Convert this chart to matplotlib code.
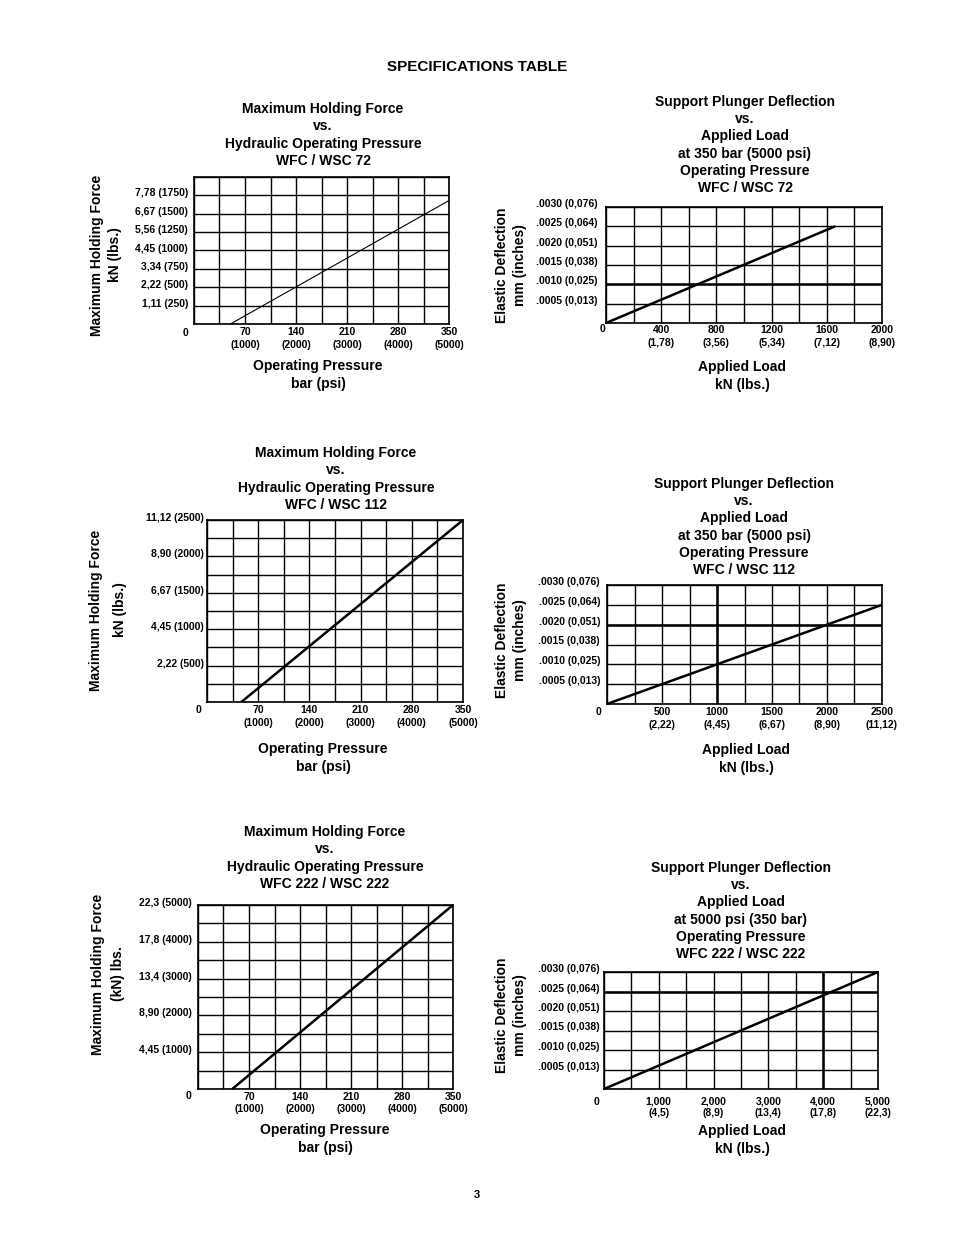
import matplotlib
matplotlib.use('Agg')
import matplotlib.pyplot as plt
import matplotlib.transforms as mtransforms

plt.rcParams['font.family'] = ['Liberation Sans', 'DejaVu Sans']
plt.rcParams['font.weight'] = 'bold'

W, H = 954, 1235

# ---- data ----
# holding force lines (bar -> lbs)
wfc72_pressure = [50, 350]
wfc72_force = [0, 1680]
wfc112_pressure = [47, 350]
wfc112_force = [0, 2500]
wfc222_pressure = [47, 350]
wfc222_force = [0, 5000]

# plunger deflection lines (lbs -> inches)
wfc72_load = [0, 1660]
wfc72_defl = [0, 0.0025]
wfc112_load = [0, 2500]
wfc112_defl = [0, 0.0025]
wfc222_load = [0, 5000]
wfc222_defl = [0, 0.0030]

# ---- ticks / labels ----
press_ticks = [0, 35, 70, 105, 140, 175, 210, 245, 280, 315, 350]
press_labels = ['', '', '70\n(1000)', '', '140\n(2000)', '', '210\n(3000)', '',
                '280\n(4000)', '', '350\n(5000)']

force72_ticks = [0, 250, 500, 750, 1000, 1250, 1500, 1750, 2000]
force72_labels = ['', '1,11 (250)', '2,22 (500)', '3,34 (750)', '4,45 (1000)',
                  '5,56 (1250)', '6,67 (1500)', '7,78 (1750)', '']
force112_ticks = [0, 250, 500, 750, 1000, 1250, 1500, 1750, 2000, 2250, 2500]
force112_labels = ['', '', '2,22 (500)', '', '4,45 (1000)', '', '6,67 (1500)', '',
                   '8,90 (2000)', '', '11,12 (2500)']
force222_ticks = [0, 500, 1000, 1500, 2000, 2500, 3000, 3500, 4000, 4500, 5000]
force222_labels = ['', '', '4,45 (1000)', '', '8,90 (2000)', '', '13,4 (3000)', '',
                   '17,8 (4000)', '', '22,3 (5000)']

defl_ticks = [0, 0.0005, 0.0010, 0.0015, 0.0020, 0.0025, 0.0030]
defl_labels = ['', '.0005 (0,013)', '.0010 (0,025)', '.0015 (0,038)',
               '.0020 (0,051)', '.0025 (0,064)', '.0030 (0,076)']

load72_ticks = [0, 200, 400, 600, 800, 1000, 1200, 1400, 1600, 1800, 2000]
load72_labels = ['', '', '400\n(1,78)', '', '800\n(3,56)', '', '1200\n(5,34)', '',
                 '1600\n(7,12)', '', '2000\n(8,90)']
load112_ticks = [0, 250, 500, 750, 1000, 1250, 1500, 1750, 2000, 2250, 2500]
load112_labels = ['', '', '500\n(2,22)', '', '1000\n(4,45)', '', '1500\n(6,67)', '',
                  '2000\n(8,90)', '', '2500\n(11,12)']
load222_ticks = [0, 500, 1000, 1500, 2000, 2500, 3000, 3500, 4000, 4500, 5000]
load222_labels = ['', '', '1,000\n(4,5)', '', '2,000\n(8,9)', '', '3,000\n(13,4)', '',
                  '4,000\n(17,8)', '', '5,000\n(22,3)']

fig = plt.figure(figsize=(W / 100, H / 100), dpi=100)


def box(x0, y0, x1, y1):
    return [x0 / W, 1 - y1 / H, (x1 - x0) / W, (y1 - y0) / H]


def at(x, y):
    return x / W, 1 - y / H


def panel(rect, xs, ys, lw, xt, xl, yt, yl, xpad, ypad, yshift, zero_off, xls=1.35):
    ax = fig.add_axes(box(*rect))
    ax.plot(xs, ys, color='black', lw=lw, solid_capstyle='butt', zorder=3, clip_on=False)
    ax.set_xlim(xt[0], xt[-1])
    ax.set_ylim(yt[0], yt[-1])
    ax.set_xticks(xt)
    ax.set_xticklabels(xl, linespacing=xls)
    ax.set_yticks(yt)
    ax.set_yticklabels(yl)
    ax.tick_params(length=0, labelsize=7.5)
    ax.tick_params(axis='x', pad=xpad)
    ax.tick_params(axis='y', pad=ypad)
    ax.grid(True, color='black', lw=1.0)
    for s in ax.spines.values():
        s.set_linewidth(1.2)
    shift = mtransforms.ScaledTranslation(0, yshift / 100, fig.dpi_scale_trans)
    for lab in ax.get_yticklabels():
        lab.set_transform(lab.get_transform() + shift)
    ax.annotate('0', xy=(0, 0), xycoords='axes fraction', xytext=zero_off,
                textcoords='offset pixels', ha='center', va='center', fontsize=7.5)
    return ax


def texts(title, tpos, ylab, ypos, yls, xlab, xpos):
    fig.text(*at(*tpos), title, ha='center', va='center', fontsize=10, linespacing=1.28)
    fig.text(*at(*ypos), ylab, ha='center', va='center', rotation=90, fontsize=10,
             linespacing=yls)
    fig.text(*at(*xpos), xlab, ha='center', va='center', fontsize=10, linespacing=1.28)


fig.text(*at(477, 67), 'SPECIFICATIONS TABLE', ha='center', va='center', fontsize=11)
fig.text(*at(477, 1195), '3', ha='center', va='center', fontsize=8)

# left column: holding force
panel((194, 177, 449, 324), wfc72_pressure, wfc72_force, 0.8,
      press_ticks, press_labels, force72_ticks, force72_labels, 2.5, 4.3, 3, (-8, -9))
texts('Maximum Holding Force\nvs.\nHydraulic Operating Pressure\nWFC / WSC 72', (323, 135),
      'Maximum Holding Force\nkN (lbs.)', (106, 255), 1.28,
      'Operating Pressure\nbar (psi)', (318, 375))

panel((207, 520, 463, 702), wfc112_pressure, wfc112_force, 1.8,
      press_ticks, press_labels, force112_ticks, force112_labels, 2.5, 2, 3, (-8, -8))
texts('Maximum Holding Force\nvs.\nHydraulic Operating Pressure\nWFC / WSC 112', (336, 479),
      'Maximum Holding Force\nkN (lbs.)', (108, 610), 1.9,
      'Operating Pressure\nbar (psi)', (323, 758))

ax = panel((198, 905, 453, 1089), wfc222_pressure, wfc222_force, 1.8,
           press_ticks, press_labels, force222_ticks, force222_labels, 1.8, 4.3, 3, (-9, -7))
texts('Maximum Holding Force\nvs.\nHydraulic Operating Pressure\nWFC 222 / WSC 222', (325, 858),
      'Maximum Holding Force\n(kN) lbs.', (108, 974), 1.5,
      'Operating Pressure\nbar (psi)', (325, 1139))

# right column: plunger deflection
ax = panel((606, 207, 882, 323), wfc72_load, wfc72_defl, 1.8,
           load72_ticks, load72_labels, defl_ticks, defl_labels, 1.5, 5.8, 4, (-3, -6))
ax.axhline(0.0010, color='black', lw=1.8, zorder=2)
texts('Support Plunger Deflection\nvs.\nApplied Load\nat 350 bar (5000 psi)\n'
      'Operating Pressure\nWFC / WSC 72', (745, 145),
      'Elastic Deflection\nmm (inches)', (511, 265), 1.28,
      'Applied Load\nkN (lbs.)', (742, 376))

ax = panel((607, 585, 882, 704), wfc112_load, wfc112_defl, 1.8,
           load112_ticks, load112_labels, defl_ticks, defl_labels, 2.5, 5, 4, (-9, -8))
ax.axhline(0.0020, color='black', lw=1.8, zorder=2)
ax.axvline(1000, color='black', lw=1.8, zorder=2)
texts('Support Plunger Deflection\nvs.\nApplied Load\nat 350 bar (5000 psi)\n'
      'Operating Pressure\nWFC / WSC 112', (744, 527),
      'Elastic Deflection\nmm (inches)', (511, 640), 1.28,
      'Applied Load\nkN (lbs.)', (746, 759))

ax = panel((604, 972, 878, 1089), wfc222_load, wfc222_defl, 1.8,
           load222_ticks, load222_labels, defl_ticks, defl_labels, 5.5, 3, 4, (-8, -13), xls=1.15)
ax.axhline(0.0025, color='black', lw=1.8, zorder=2)
ax.axvline(4000, color='black', lw=1.8, zorder=2)
texts('Support Plunger Deflection\nvs.\nApplied Load\nat 5000 psi (350 bar)\n'
      'Operating Pressure\nWFC 222 / WSC 222', (741, 911),
      'Elastic Deflection\nmm (inches)', (511, 1015), 1.28,
      'Applied Load\nkN (lbs.)', (742, 1140))

fig.savefig('out.png', dpi=100)
